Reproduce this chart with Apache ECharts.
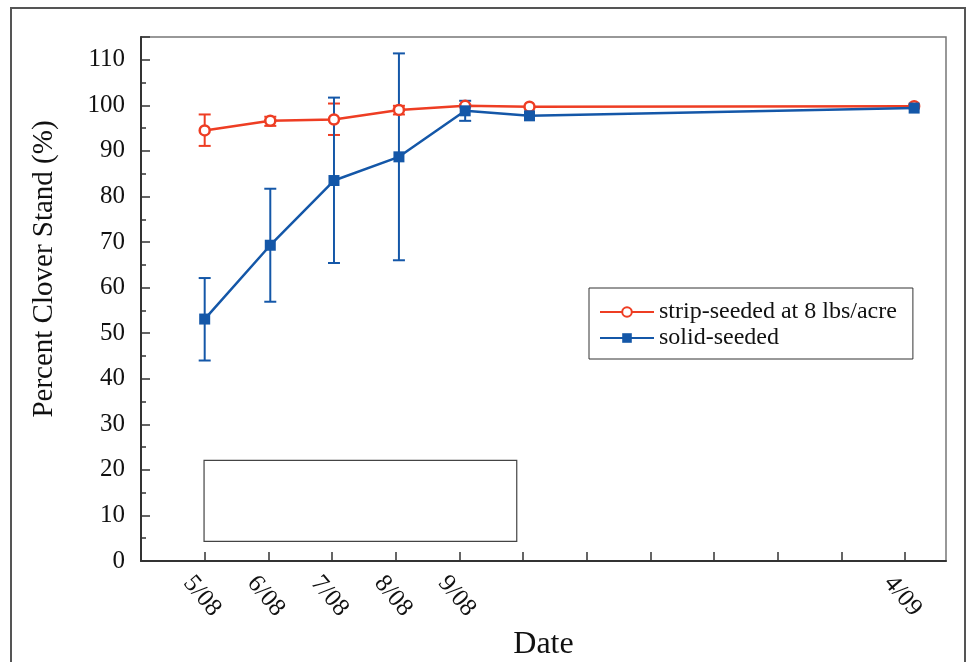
<!DOCTYPE html>
<html>
<head>
<meta charset="utf-8">
<title>Percent Clover Stand</title>
<script src="https://cdn.jsdelivr.net/npm/echarts@6/dist/echarts.min.js"></script>
<style>html,body{margin:0;padding:0;background:#fff;}</style>
</head>
<body>
<div id="main" style="width:967px;height:662px;"></div>
<script>
// x values are months counted from 4/08 (= 0)
var dateX = [1.0, 2.03, 3.03, 4.05, 5.09, 6.1, 12.14];

var stripY    = [94.5, 96.6, 96.9, 99.0, 99.9, 99.7, 99.8];
var stripLow  = [91.1, 95.5, 93.5, 98.0, null, null, null];
var stripHigh = [98.0, 97.5, 100.4, 99.9, null, null, null];

var solidY    = [53.1, 69.3, 83.5, 88.7, 98.8, 97.7, 99.4];
var solidLow  = [44.0, 56.9, 65.4, 66.0, 96.6, null, null];
var solidHigh = [62.1, 81.7, 101.7, 111.4, 101.0, null, null];

var tickValues = [1, 2, 3, 4, 5, 12];
var tickLabels = ['5/08', '6/08', '7/08', '8/08', '9/08', '4/09'];

// empty annotation box, in data units
var boxX = [0.99, 5.9];
var boxY = [4.3, 22.1];

var red = '#EE3D23';
var blue = '#1457A8';
var serif = '"Liberation Serif", "DejaVu Serif", serif';

function pairs(xs, ys) {
    return xs.map(function (x, i) { return [x, ys[i]]; });
}
function errData(xs, lo, hi) {
    var out = [];
    xs.forEach(function (x, i) {
        if (lo[i] != null) out.push([x, lo[i], hi[i]]);
    });
    return out;
}
function errSeries(data, color) {
    return {
        type: 'custom',
        silent: true,
        z: 3,
        data: data,
        encode: { x: 0, y: [1, 2] },
        renderItem: function (params, api) {
            var lo = api.coord([api.value(0), api.value(1)]);
            var hi = api.coord([api.value(0), api.value(2)]);
            var w = 6;
            var st = { stroke: color, lineWidth: 2 };
            return {
                type: 'group',
                children: [
                    { type: 'line', shape: { x1: lo[0], y1: lo[1], x2: hi[0], y2: hi[1] }, style: st },
                    { type: 'line', shape: { x1: lo[0] - w, y1: lo[1], x2: lo[0] + w, y2: lo[1] }, style: st },
                    { type: 'line', shape: { x1: hi[0] - w, y1: hi[1], x2: hi[0] + w, y2: hi[1] }, style: st }
                ]
            };
        }
    };
}

var myChart = echarts.init(document.getElementById('main'));

var option = {
    backgroundColor: '#fff',
    animation: false,
    textStyle: { fontFamily: serif },
    graphic: [{
        type: 'rect',
        shape: { x: 11, y: 8, width: 954, height: 700 },
        style: { fill: 'none', stroke: '#555', lineWidth: 2 },
        silent: true
    }],
    legend: {
        orient: 'vertical',
        left: 589,
        top: 288,
        padding: [12, 16, 9, 10],
        itemGap: 2,
        itemWidth: 54,
        itemHeight: 12,
        borderColor: '#333',
        borderWidth: 1,
        textStyle: { fontFamily: serif, fontSize: 24, color: '#111' },
        data: ['strip-seeded at 8 lbs/acre', 'solid-seeded']
    },
    grid: {
        left: 141, right: 21, top: 37, bottom: 101,
        outerBoundsMode: 'none',
        show: true, borderColor: '#777', borderWidth: 1.5
    },
    xAxis: {
        type: 'value',
        min: 0,
        max: 12.64,
        interval: 1,
        name: 'Date',
        nameLocation: 'middle',
        nameGap: 68,
        nameMoveOverlap: false,
        nameTextStyle: { fontFamily: serif, fontSize: 32, color: '#111' },
        axisLine: { lineStyle: { color: '#333', width: 2 } },
        axisTick: { inside: true, length: 9, lineStyle: { color: '#333', width: 1.5 } },
        splitLine: { show: false },
        axisLabel: {
            rotate: -50,
            margin: 4,
            verticalAlign: 'top',
            lineHeight: 44,
            fontFamily: serif,
            fontSize: 25,
            color: '#111',
            showMaxLabel: false,
            formatter: function (v) {
                var i = tickValues.indexOf(Math.round(v * 100) / 100);
                return i < 0 ? '' : tickLabels[i];
            }
        }
    },
    yAxis: [{
        type: 'value',
        min: 0,
        max: 115,
        interval: 10,
        name: 'Percent Clover Stand (%)',
        nameLocation: 'middle',
        nameRotate: 90,
        nameGap: 82,
        nameMoveOverlap: false,
        nameTextStyle: { fontFamily: serif, fontSize: 29, color: '#111', padding: [0, 0, 0, 60] },
        axisLine: { lineStyle: { color: '#333', width: 2 } },
        axisTick: { inside: true, length: 9, lineStyle: { color: '#333', width: 1.5 } },
        splitLine: { show: false },
        axisLabel: {
            margin: 16,
            fontFamily: serif,
            fontSize: 25,
            color: '#111',
            formatter: function (v) { return v % 10 === 0 ? String(v) : ''; }
        }
    }, {
        type: 'value',
        min: 0,
        max: 115,
        interval: 5,
        position: 'left',
        axisLine: { show: false },
        axisTick: { inside: true, length: 5, lineStyle: { color: '#333', width: 1.5 } },
        splitLine: { show: false },
        axisLabel: { show: false }
    }],
    series: [
        errSeries(errData(dateX, stripLow, stripHigh), red),
        errSeries(errData(dateX, solidLow, solidHigh), blue),
        {
            name: 'strip-seeded at 8 lbs/acre',
            type: 'line',
            z: 4,
            data: pairs(dateX, stripY),
            symbol: 'circle',
            symbolSize: 10,
            lineStyle: { color: red, width: 2.5 },
            itemStyle: { color: '#fff', borderColor: red, borderWidth: 2.5 }
        },
        {
            name: 'solid-seeded',
            type: 'line',
            z: 5,
            data: pairs(dateX, solidY),
            symbol: 'rect',
            symbolSize: 11,
            lineStyle: { color: blue, width: 2.5 },
            itemStyle: { color: blue },
            markArea: {
                silent: true,
                itemStyle: { color: 'rgba(0,0,0,0)', borderColor: '#444', borderWidth: 1.2 },
                data: [[{ coord: [boxX[0], boxY[0]] }, { coord: [boxX[1], boxY[1]] }]]
            }
        }
    ]
};

myChart.setOption(option);
</script>
</body>
</html>
